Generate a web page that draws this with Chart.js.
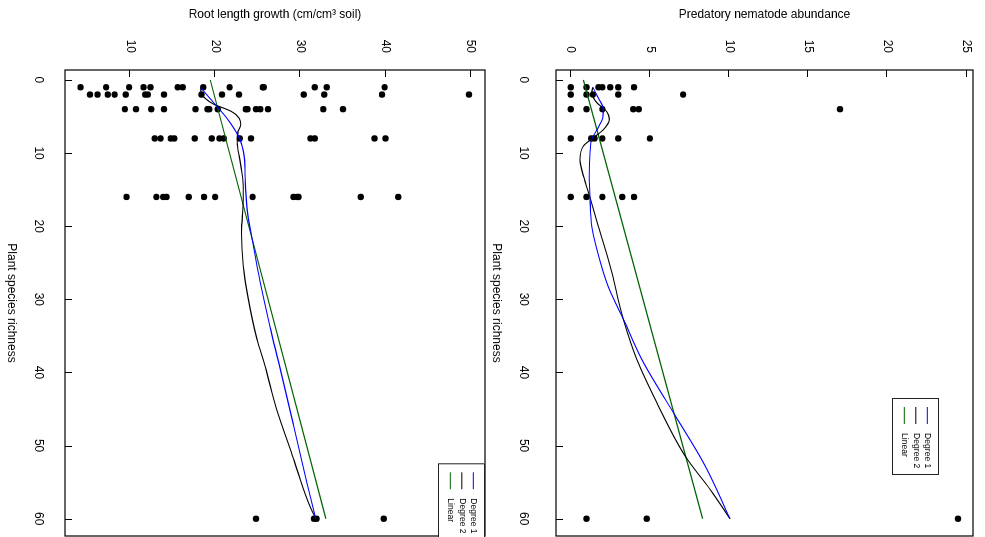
<!DOCTYPE html>
<html><head><meta charset="utf-8">
<script src="https://cdn.jsdelivr.net/npm/chart.js@4.4.1/dist/chart.umd.min.js"></script>
<style>
html,body{margin:0;padding:0;background:#fff;overflow:hidden;width:985px;height:537px;}
#fig{position:absolute;left:0;top:0;width:540px;height:985px;transform-origin:0 0;transform:translateX(985px) rotate(90deg);}
#predCanvas{position:absolute;left:0;top:0;}
#rootCanvas{position:absolute;left:0;top:492px;}
</style></head><body>
<div id="fig"><canvas id="predCanvas" width="540" height="500"></canvas><canvas id="rootCanvas" width="540" height="493"></canvas></div>
<script>
// ---------- data ----------
const richnessLevels = [1, 2, 4, 8, 16, 60];
const richnessTicks = [0, 10, 20, 30, 40, 50, 60];

// Root length growth (cm/cm³ soil) by plant species richness
const rootR1  = [4.2, 7.2, 9.9, 11.6, 12.4, 15.6, 16.2, 18.6, 21.7, 25.6, 25.7, 31.7, 33.1, 39.9];
const rootR2  = [5.3, 6.2, 7.4, 8.2, 9.5, 11.8, 12.1, 14.0, 18.4, 20.8, 22.8, 30.4, 32.8, 39.6, 49.8];
const rootR4  = [9.4, 10.7, 12.5, 14.0, 17.7, 19.1, 19.3, 20.3, 23.6, 23.8, 24.8, 25.3, 26.2, 32.7, 35.0];
const rootR8  = [12.9, 13.6, 14.8, 15.2, 17.6, 19.6, 20.5, 21.0, 22.9, 24.2, 31.2, 31.7, 38.7, 40.0];
const rootR16 = [9.6, 13.1, 13.9, 14.3, 16.9, 18.7, 20.0, 24.4, 29.2, 29.6, 29.8, 37.1, 41.5];
const rootR60 = [24.8, 31.6, 31.9, 39.8];
const rootTicks = [10, 20, 30, 40, 50];

const rootDeg1X = [1, 2, 3.6, 5.2, 6.8, 8.1, 10.4, 12.2, 15.4, 19, 20.9, 27.7, 33.6, 39.3, 47.2, 55, 60];
const rootDeg1Y = [18.3, 19.0, 20.2, 21.35, 22.3, 22.9, 23.4, 23.5, 23.6, 23.9, 24.2, 25.3, 26.4, 27.6, 29.2, 30.75, 31.8];
const rootDeg2X = [1, 1.8, 2.6, 3.3, 4.3, 5.2, 6.1, 7.0, 8.6, 10.9, 14.5, 16.3, 20.9, 25.4, 30, 35.4, 39.3, 45, 51.8, 57.2, 60];
const rootDeg2Y = [18.3, 18.35, 18.9, 19.8, 21.9, 22.8, 23.0, 22.7, 22.6, 22.9, 23.3, 23.3, 23.1, 23.3, 23.9, 24.9, 25.9, 27.2, 29.2, 30.75, 31.8];
const rootLinX = [0, 60];
const rootLinY = [19.42, 33.0];

// Predatory nematode abundance by plant species richness
const predR1  = [0, 1, 1.75, 2, 2.5, 3, 4];
const predR2  = [0, 1, 1.4, 3, 7.1];
const predR4  = [0, 1, 2, 3.95, 4.3, 17];
const predR8  = [0, 1.3, 1.5, 2, 3, 5];
const predR16 = [0, 1, 2, 3.25, 4];
const predR60 = [1, 4.8, 24.45];
const predTicks = [0, 5, 10, 15, 20, 25];

const predDeg1X = [1, 2.45, 4.05, 5.2, 6.5, 8.1, 10, 13.1, 16.3, 20, 23.1, 27.7, 32.7, 38.2, 45.5, 52.3, 60];
const predDeg1Y = [1.39, 1.74, 2.06, 2.02, 1.74, 1.33, 1.22, 1.17, 1.22, 1.33, 1.64, 2.27, 3.32, 4.48, 6.48, 8.37, 10.06];
const predDeg2X = [1, 1.8, 3.1, 4.3, 5.4, 6.8, 7.9, 9.05, 10.9, 13.1, 16.3, 20, 25.4, 32.7, 38.2, 44.1, 51.4, 56, 60];
const predDeg2Y = [1.39, 1.33, 1.64, 2.27, 2.44, 2.06, 1.43, 0.8, 0.59, 0.8, 1.25, 1.74, 2.48, 3.32, 4.17, 5.43, 7.22, 8.8, 10.06];
const predLinX = [0, 60];
const predLinY = [0.80, 8.33];

const legendLabels = ['Degree 1', 'Degree 2', 'Linear'];
const legendColors = ['#0000ff', '#000000', '#006400'];

// ---------- helpers ----------
const FONT = '"Liberation Sans", Arial, Helvetica, sans-serif';
Chart.defaults.font.family = FONT;
Chart.defaults.font.size = 12;
Chart.defaults.color = '#000';

function groupPoints(levels, groups) {
  return levels.flatMap((r, i) => groups[i].map(v => ({x: r, y: v})));
}
function curve(xs, ys) { return xs.map((x, i) => ({x: x, y: ys[i]})); }

const rFrame = {
  id: 'rFrame',
  afterDraw(chart, args, o) {
    const {ctx, chartArea: a, scales: {x, y}} = chart;
    ctx.save();
    ctx.strokeStyle = '#000';
    ctx.lineWidth = 1.2;
    ctx.strokeRect(a.left, a.top, a.right - a.left, a.bottom - a.top);
    ctx.lineWidth = 1;
    ctx.beginPath();
    o.xTicks.forEach(v => { const p = Math.round(x.getPixelForValue(v)) + 0.5; ctx.moveTo(p, a.bottom); ctx.lineTo(p, a.bottom - 7); });
    o.yTicks.forEach(v => { const p = Math.round(y.getPixelForValue(v)) + 0.5; ctx.moveTo(a.left, p); ctx.lineTo(a.left + 7, p); });
    ctx.stroke();
    // legend
    const L = a.left + o.legendDx, T = a.top + o.legendDy, W = 76, H = 46;
    ctx.fillStyle = '#fff';
    ctx.fillRect(L, T, W, H);
    ctx.strokeStyle = '#222';
    ctx.lineWidth = 1;
    ctx.strokeRect(L + 0.5, T + 0.5, W, H);
    const rows = [11.2, 22.7, 34.2];
    ctx.font = '8.6px ' + FONT;
    ctx.textBaseline = 'middle';
    ctx.textAlign = 'left';
    legendLabels.forEach((lab, i) => {
      ctx.strokeStyle = legendColors[i];
      ctx.beginPath();
      ctx.moveTo(L + 9, T + rows[i] + 0.5);
      ctx.lineTo(L + 26, T + rows[i] + 0.5);
      ctx.stroke();
      ctx.fillStyle = '#000';
      ctx.fillText(lab, L + 35, T + rows[i]);
    });
    ctx.restore();
  }
};

function makeChart(canvas, cfg) {
  const pts = {type: 'scatter', data: cfg.points, backgroundColor: '#000', borderWidth: 0, pointRadius: 3.2, order: 4};
  const line = (d, c) => ({type: 'line', data: d, borderColor: c, borderWidth: 1.1, pointRadius: 0, fill: false, cubicInterpolationMode: 'monotone', order: 1});
  return new Chart(canvas, {
    type: 'scatter',
    data: {datasets: [pts, line(cfg.deg1, legendColors[0]), line(cfg.deg2, legendColors[1]), line(cfg.lin, legendColors[2])]},
    options: {
      responsive: false, animation: false, devicePixelRatio: 1,
      layout: {padding: {top: cfg.padTop, right: 3.5, left: 0, bottom: 0}},
      plugins: {legend: {display: false}, tooltip: {enabled: false},
        rFrame: {xTicks: richnessTicks, yTicks: cfg.yTicks, legendDx: cfg.legendDx, legendDy: cfg.legendDy}},
      events: [],
      scales: {
        x: {type: 'linear', position: 'bottom', min: -1.36, max: 62.36,
          afterBuildTicks: s => { s.ticks = richnessTicks.map(v => ({value: v})); },
          afterFit: s => { s.height = cfg.xHeight; },
          ticks: {padding: 0, autoSkip: false, maxRotation: 0, minRotation: 0},
          grid: {display: false, drawTicks: true, tickLength: cfg.xPad}, border: {display: false},
          title: {display: true, text: 'Plant species richness', padding: {top: 0, bottom: 3.8}}},
        y: {type: 'linear', position: 'left', min: cfg.yMin, max: cfg.yMax,
          afterBuildTicks: s => { s.ticks = cfg.yTicks.map(v => ({value: v})); },
          afterFit: s => { s.width = 70; },
          ticks: {padding: 0, autoSkip: false},
          grid: {display: false, drawTicks: true, tickLength: 17}, border: {display: false},
          title: {display: true, text: cfg.title, padding: {top: 7.8, bottom: 0}}}
      }
    },
    plugins: [rFrame]
  });
}

makeChart(document.getElementById('predCanvas'), {
  points: groupPoints(richnessLevels, [predR1, predR2, predR4, predR8, predR16, predR60]),
  deg1: curve(predDeg1X, predDeg1Y), deg2: curve(predDeg2X, predDeg2Y), lin: curve(predLinX, predLinY),
  yMin: -0.93, yMax: 25.4, yTicks: predTicks, title: 'Predatory nematode abundance',
  padTop: 12, xHeight: 71, xPad: 25, legendDx: 328, legendDy: 34
});
makeChart(document.getElementById('rootCanvas'), {
  points: groupPoints(richnessLevels, [rootR1, rootR2, rootR4, rootR8, rootR16, rootR60]),
  deg1: curve(rootDeg1X, rootDeg1Y), deg2: curve(rootDeg2X, rootDeg2Y), lin: curve(rootLinX, rootLinY),
  yMin: 2.37, yMax: 51.68, yTicks: rootTicks, title: 'Root length growth (cm/cm³ soil)',
  padTop: 8, xHeight: 65, xPad: 19, legendDx: 393.3, legendDy: 0
});
</script>
</body></html>
